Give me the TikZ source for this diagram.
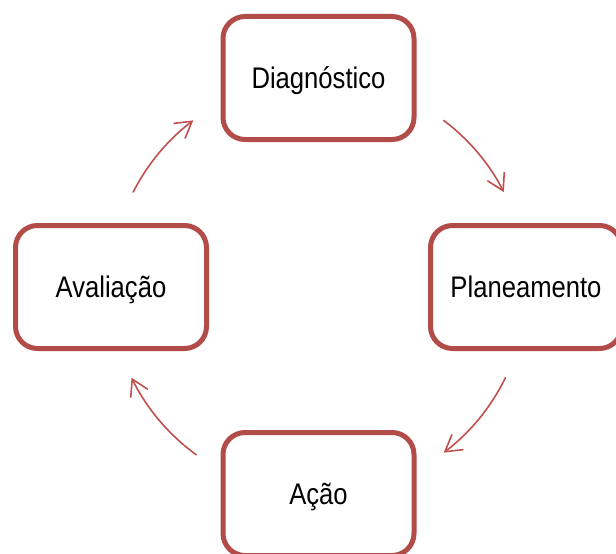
\documentclass[tikz,border=0pt]{standalone}
\usepackage{fontspec}
\setmainfont{Liberation Sans}[FakeStretch=0.86]
\usetikzlibrary{arrows.meta}
\definecolor{rahmen}{RGB}{178,76,73}
\definecolor{pfeil}{RGB}{192,80,77}
\tikzset{
	etappe/.style={draw=rahmen, line width=2.5pt, rounded corners=11pt, fill=white,
		minimum width=95.5pt, minimum height=61.5pt, text height=10.5pt, text depth=0pt,
		font=\fontsize{14.9}{18}\selectfont},
	kreispfeil/.style={draw=pfeil, line width=0.8pt, line cap=round,
		-{Straight Barb[length=8pt,width=9.5pt,line width=0.8pt]}}
}
\begin{document}
\begin{tikzpicture}[x=0.5pt,y=0.5pt]
		\useasboundingbox (0,0) rectangle (616,553);
		% Mitte des Kreises
		\coordinate (mitte) at (318.5,266.5);
		% Etappen
		\node[etappe] (diag) at (318.5,475) {Diagnóstico};
		\node[etappe] (plan) at (526,266) {Planeamento};
		\node[etappe] (acao) at (318.5,59) {Ação};
		\node[etappe] (aval) at (111,266) {Avaliação};
		% Pfeile auf dem Kreis
		\foreach \a/\b in {53/27, -26/-53, 234/206, 153/127}
			\draw[kreispfeil] (mitte) ++(\a:104pt) arc[start angle=\a, end angle=\b, radius=104pt];
	\end{tikzpicture}
\end{document}
